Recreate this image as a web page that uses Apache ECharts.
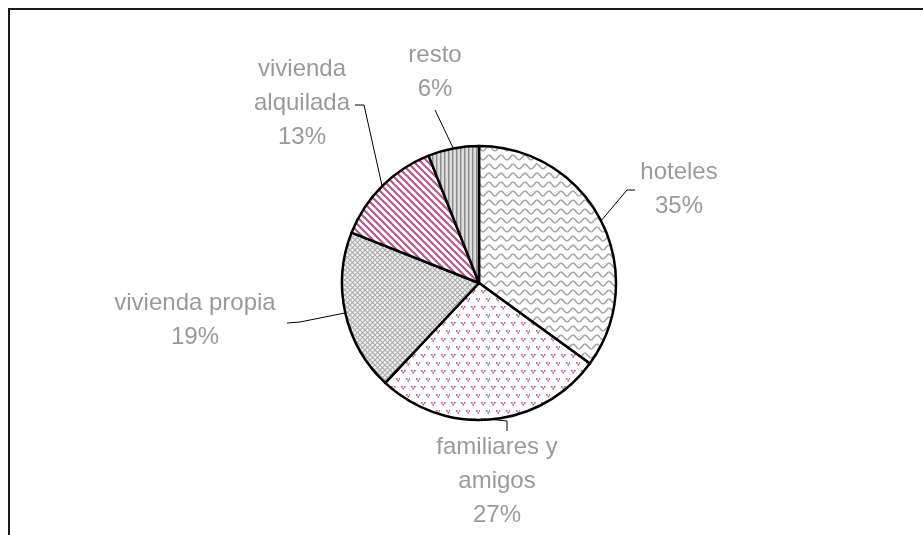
<!DOCTYPE html>
<html>
<head>
<meta charset="utf-8">
<script src="https://cdn.jsdelivr.net/npm/echarts@6/dist/echarts.min.js"></script>
<style>
html,body{margin:0;padding:0;background:#fff;}
#c{width:923px;height:535px;}
</style>
</head>
<body>
<div id="c"></div>
<script>
// Data
var categories = ['hoteles', 'familiares y\namigos', 'vivienda propia', 'vivienda\nalquilada', 'resto'];
var values = [35, 27, 19, 13, 6];

// Label layout (anchor of text block centre, and leader line elbow/end), layout only
var labelAnchors = [
  {x: 679, y: 189, line: [[627, 190], [635, 190]]},
  {x: 497, y: 481, line: [[507, 421], [507, 431]]},
  {x: 195, y: 320, line: [[300, 322], [287, 323]]},
  {x: 302, y: 103, line: [[364, 105], [355, 105]]},
  {x: 435, y: 72, line: [[435, 110], [435, 110]]}
];

function makeCanvas(w, h, draw) {
  var c = document.createElement('canvas');
  c.width = w; c.height = h;
  var ctx = c.getContext('2d');
  draw(ctx, w, h);
  return c;
}
var MAG = '#b4588a';
var patWave = makeCanvas(12, 9, function (ctx, w, h) {
  ctx.fillStyle = '#fff'; ctx.fillRect(0, 0, w, h);
  ctx.strokeStyle = '#a8a8a8'; ctx.lineWidth = 1.6;
  ctx.beginPath();
  for (var x = -1; x <= w + 1; x += 0.5) {
    var y = 4.5 + 2.3 * Math.sin(2 * Math.PI * x / w);
    if (x === -1) ctx.moveTo(x, y); else ctx.lineTo(x, y);
  }
  ctx.stroke();
});
var patDots = makeCanvas(10, 16, function (ctx, w, h) {
  ctx.fillStyle = '#fff'; ctx.fillRect(0, 0, w, h);
  ctx.fillStyle = MAG;
  function mark(x, y) {
    ctx.fillRect(x, y, 1.6, 1.6);
    ctx.fillRect(x + 3, y, 1.6, 1.6);
    ctx.fillRect(x + 1.5, y + 1.7, 1.6, 1.8);
  }
  mark(1, 2); mark(6, 10);
});
var patMesh = makeCanvas(5, 5, function (ctx, w, h) {
  ctx.fillStyle = '#f2f2f2'; ctx.fillRect(0, 0, w, h);
  ctx.strokeStyle = '#aaaaaa'; ctx.lineWidth = 1.1;
  ctx.beginPath();
  ctx.moveTo(-1, -1); ctx.lineTo(w + 1, h + 1);
  ctx.moveTo(-1, h + 1); ctx.lineTo(w + 1, -1);
  ctx.stroke();
});
var patDiag = makeCanvas(7, 7, function (ctx, w, h) {
  ctx.fillStyle = '#fff'; ctx.fillRect(0, 0, w, h);
  ctx.strokeStyle = MAG; ctx.lineWidth = 2.2;
  ctx.beginPath();
  ctx.moveTo(-2, -2); ctx.lineTo(w + 2, h + 2);
  ctx.moveTo(-2, h - 2); ctx.lineTo(2, h + 2);
  ctx.moveTo(w - 2, -2); ctx.lineTo(w + 2, 2);
  ctx.stroke();
});
var patVert = makeCanvas(4, 4, function (ctx, w, h) {
  ctx.fillStyle = '#dcdcdc'; ctx.fillRect(0, 0, w, h);
  ctx.fillStyle = '#8a8a8a'; ctx.fillRect(0, 0, 1.4, h);
});
var patterns = [patWave, patDots, patMesh, patDiag, patVert];

var chart = echarts.init(document.getElementById('c'));
var data = categories.map(function (n, i) {
  return {name: n, value: values[i], itemStyle: {color: {image: patterns[i], repeat: 'repeat'}}};
});
chart.setOption({
  animation: false,
  graphic: [{
    type: 'rect', silent: true,
    shape: {x: 9, y: 9, width: 2000, height: 2000},
    style: {fill: 'none', stroke: '#1a1a1a', lineWidth: 2}
  }],
  series: [{
    type: 'pie',
    center: [479, 283],
    radius: [0, 137],
    startAngle: 90,
    clockwise: true,
    avoidLabelOverlap: false,
    data: data,
    itemStyle: {borderColor: '#000', borderWidth: 2.5},
    label: {
      show: true,
      formatter: function (p) { return p.name + '\n' + Math.round(p.percent) + '%'; },
      color: '#9a9a9a',
      fontFamily: 'Liberation Sans, Arial, sans-serif',
      fontSize: 24,
      lineHeight: 34,
      align: 'center'
    },
    labelLine: {show: true, smooth: false, lineStyle: {color: '#000', width: 1}},
    labelLayout: function (p) {
      var a = labelAnchors[p.dataIndex];
      var pts = p.labelLinePoints;
      var start = pts && pts[0] ? pts[0] : a.line[0];
      return {
        x: a.x, y: a.y, align: 'center', verticalAlign: 'middle',
        labelLinePoints: [start, a.line[0], a.line[1]]
      };
    }
  }]
});
</script>
</body>
</html>
